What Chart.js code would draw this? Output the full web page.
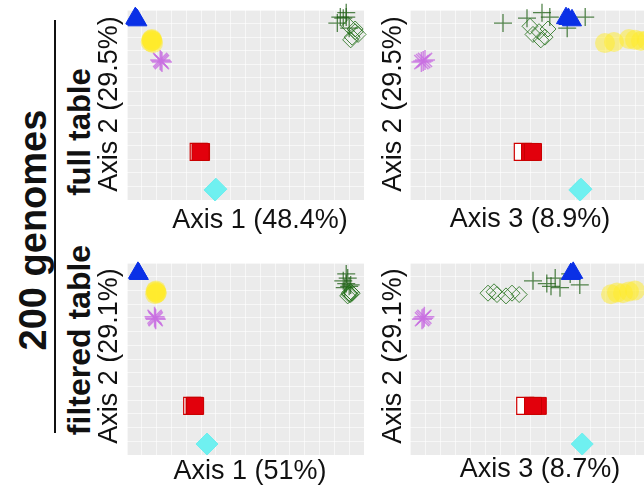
<!DOCTYPE html>
<html lang="en">

<head>
    <meta charset="UTF-8">
    <title>200 genomes PCoA</title>
    <script src="https://cdn.jsdelivr.net/npm/chart.js"></script>
    <style>
        body {
            margin: 0;
            width: 644px;
            height: 486px;
            overflow: hidden;
            background: #fff;
            position: relative;
            font-family: "Liberation Sans", Arial, sans-serif;
            color: #111;
        }

        canvas {
            position: absolute;
        }

        .lbl {
            position: absolute;
            white-space: nowrap;
            transform: translate(-50%, -50%);
            font-size: 27px;
            line-height: 1;
            z-index: 5;
        }

        .rot {
            transform: translate(-50%, -50%) rotate(-90deg);
        }

        .bold {
            font-weight: bold;
        }

        #rule {
            position: absolute;
            left: 54px;
            top: 20px;
            width: 2px;
            height: 413px;
            background: #111;
        }
    </style>
</head>

<body>
    <canvas id="fullA1" width="265" height="218" style="left:113px;top:-4px"></canvas>
    <canvas id="fullA3" width="268" height="218" style="left:396px;top:-4px"></canvas>
    <canvas id="filtA1" width="265" height="220" style="left:113px;top:249px"></canvas>
    <canvas id="filtA3" width="268" height="220" style="left:396px;top:249px"></canvas>

    <div class="lbl rot bold" style="left:33px;top:230px;font-size:38px">200 genomes</div>
    <div id="rule"></div>
    <div class="lbl rot bold" style="left:79px;top:132px;font-size:31px">full table</div>
    <div class="lbl rot bold" style="left:79px;top:340px;font-size:32px">filtered table</div>

    <div class="lbl rot" style="left:108px;top:104px">Axis 2 (29.5%)</div>
    <div class="lbl rot" style="left:392px;top:104px">Axis 2 (29.5%)</div>
    <div class="lbl rot" style="left:108px;top:356px">Axis 2 (29.1%)</div>
    <div class="lbl rot" style="left:392px;top:356px">Axis 2 (29.1%)</div>

    <div class="lbl" style="left:260px;top:219px">Axis 1 (48.4%)</div>
    <div class="lbl" style="left:530px;top:218px">Axis 3 (8.9%)</div>
    <div class="lbl" style="left:250px;top:470px">Axis 1 (51%)</div>
    <div class="lbl" style="left:540px;top:468px">Axis 3 (8.7%)</div>

    <script>
        // groups, top-most first (Chart.js paints dataset 0 last)
        const groups = ['blue', 'cyan', 'red', 'redOpen', 'yellow', 'purple', 'greenDiamond', 'greenCross'];

        // full table: [axis1, axis2, axis3] per genome
        const fullGreenCross = [[0.41, 0.252, -0.045], [0.43, 0.270, -0.005], [0.44, 0.274, 0.033], [0.45, 0.233, 0.062], [0.42, 0.274, 0.092], [0.44, 0.290, 0.020]];
        const fullGreenDiamond = [[0.45, 0.240, 0.0], [0.47, 0.220, 0.015], [0.46, 0.200, 0.025], [0.48, 0.210, 0.005], [0.455, 0.190, 0.018], [0.47, 0.230, 0.030]];
        const fullPurple = [[-0.185, 0.112, -0.178], [-0.188, 0.116, -0.175], [-0.182, 0.108, -0.181]];
        const fullYellow = [[-0.218, 0.190, 0.175], [-0.214, 0.186, 0.185], [-0.216, 0.193, 0.165], [-0.220, 0.182, 0.140], [-0.212, 0.178, 0.125], [-0.216, 0.188, 0.195]];
        const fullRedOpen = [[-0.058, -0.223, -0.012]];
        const fullRed = [[-0.050, -0.223, 0.0], [-0.052, -0.223, 0.005]];
        const fullCyan = [[-0.003, -0.363, 0.083], [0.0, -0.360, 0.085]];
        const fullBlue = [[-0.270, 0.267, 0.064], [-0.265, 0.262, 0.070], [-0.272, 0.270, 0.060]];

        // filtered table
        const filtGreenCross = [[0.43, 0.235, 0.005], [0.44, 0.225, 0.028], [0.445, 0.245, 0.042], [0.45, 0.215, 0.035], [0.44, 0.260, 0.067], [0.455, 0.220, 0.083], [0.435, 0.210, 0.050]];
        const filtGreenDiamond = [[0.45, 0.190, -0.070], [0.455, 0.185, -0.055], [0.445, 0.180, -0.040], [0.46, 0.190, -0.030], [0.45, 0.185, -0.018], [0.455, 0.195, -0.060]];
        const filtPurple = [[-0.205, 0.099, -0.178], [-0.207, 0.104, -0.176], [-0.203, 0.095, -0.180]];
        const filtYellow = [[-0.204, 0.196, 0.165], [-0.200, 0.190, 0.155], [-0.202, 0.200, 0.175], [-0.205, 0.186, 0.135], [-0.200, 0.192, 0.145]];
        const filtRedOpen = [[-0.080, -0.221, -0.008]];
        const filtRed = [[-0.072, -0.221, 0.013], [-0.070, -0.221, 0.005]];
        const filtCyan = [[-0.030, -0.360, 0.087]];
        const filtBlue = [[-0.263, 0.264, 0.072], [-0.260, 0.260, 0.068]];

        const fullTable = { greenCross: fullGreenCross, greenDiamond: fullGreenDiamond, purple: fullPurple, yellow: fullYellow, redOpen: fullRedOpen, red: fullRed, cyan: fullCyan, blue: fullBlue };
        const filtTable = { greenCross: filtGreenCross, greenDiamond: filtGreenDiamond, purple: filtPurple, yellow: filtYellow, redOpen: filtRedOpen, red: filtRed, cyan: filtCyan, blue: filtBlue };

        const styles = {
            greenCross: { pointStyle: 'cross', pointRadius: 9, borderColor: 'rgba(30,95,20,0.75)', backgroundColor: 'transparent', borderWidth: 1.3 },
            greenDiamond: { pointStyle: 'rectRot', pointRadius: 8, borderColor: 'rgba(30,110,20,0.8)', backgroundColor: 'transparent', borderWidth: 1 },
            purple: { pointStyle: 'star', pointRadius: 10, borderColor: 'rgba(200,110,225,0.8)', backgroundColor: 'transparent', borderWidth: 1.5 },
            yellow: { pointStyle: 'circle', pointRadius: 10, borderColor: 'transparent', backgroundColor: 'rgba(255,236,40,0.5)', borderWidth: 0 },
            redOpen: { pointStyle: 'rect', pointRadius: 12, borderColor: '#d00000', backgroundColor: '#ffffff', borderWidth: 1.2 },
            red: { pointStyle: 'rect', pointRadius: 12, borderColor: '#c80000', backgroundColor: '#e2000c', borderWidth: 1 },
            cyan: { pointStyle: 'rectRot', pointRadius: 11, borderColor: '#6eeeee', backgroundColor: '#6ff0f0', borderWidth: 1 },
            blue: { pointStyle: 'triangle', pointRadius: 11, borderColor: '#0a30e6', backgroundColor: '#0a30e6', borderWidth: 1 }
        };

        const panelBg = {
            id: 'panelBg',
            beforeDraw(chart) {
                const { ctx, chartArea: a } = chart;
                ctx.save();
                ctx.fillStyle = '#ebebeb';
                ctx.fillRect(a.left, a.top, a.width, a.height);
                ctx.restore();
            }
        };

        function axis(min, max, step) {
            return {
                type: 'linear', min: min, max: max,
                ticks: { display: false, stepSize: step },
                grid: { color: 'rgba(255,255,255,0.6)', lineWidth: 1, drawTicks: false },
                border: { display: false }
            };
        }

        function drawPanel(id, table, xi, xMin, xMax, xStep) {
            new Chart(document.getElementById(id), {
                type: 'scatter',
                data: {
                    datasets: groups.map(g => Object.assign({
                        label: g,
                        data: table[g].map(p => ({ x: p[xi], y: p[1] })),
                        clip: false
                    }, styles[g]))
                },
                options: {
                    responsive: false,
                    animation: false,
                    layout: { padding: 14, autoPadding: false },
                    plugins: { legend: { display: false }, tooltip: { enabled: false } },
                    scales: {
                        x: axis(xMin, xMax, xStep),
                        y: axis(-0.40, 0.30, 0.05)
                    }
                },
                plugins: [panelBg]
            });
        }

        drawPanel('fullA1', fullTable, 0, -0.30, 0.50, 0.05);
        drawPanel('fullA3', fullTable, 2, -0.20, 0.20, 0.025);
        drawPanel('filtA1', filtTable, 0, -0.30, 0.50, 0.05);
        drawPanel('filtA3', filtTable, 2, -0.20, 0.20, 0.025);
    </script>
</body>

</html>
